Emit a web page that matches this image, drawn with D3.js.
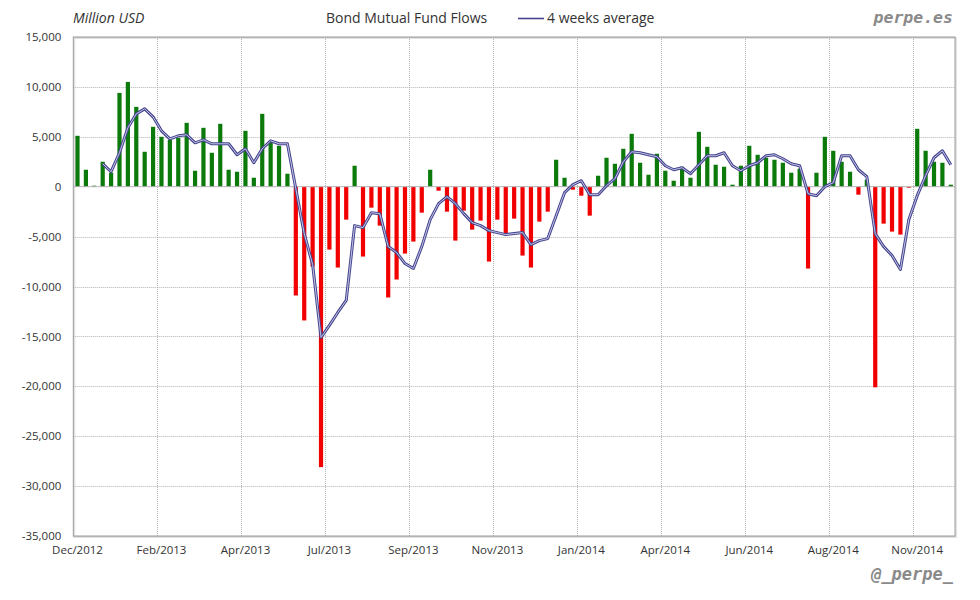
<!DOCTYPE html>
<html>
<head>
<meta charset="utf-8">
<script src="https://cdn.jsdelivr.net/npm/d3@7/dist/d3.min.js"></script>
<style>
  body { margin:0; background:#fff; }
  text { font-family: "Open Sans", "DejaVu Sans", sans-serif; fill:#333; }
  .sign { font-family: "DejaVu Sans Mono", monospace; font-weight:bold; font-style:italic; fill:#8a8a8a; }
</style>
</head>
<body>
<div id="chart"></div>
<script>
//--------------------------------- Data (weekly flows, million USD)
var weekLabels = ["Dec/2012","Feb/2013","Apr/2013","Jul/2013","Sep/2013","Nov/2013",
                  "Jan/2014","Apr/2014","Jun/2014","Aug/2014","Nov/2014"];   // one every 10 weeks

var flows = [
   5100,  1700,   100,  2500,  1400,  9400, 10500,  8000,  3500,  6000,
   5000,  4700,  4900,  6400,  1600,  5900,  3400,  6300,  1700,  1500,
   5600,   900,  7300,  4600,  4100,  1300,-10900,-13400, -8000,-28100,
  -6300, -8100, -3300,  2100, -7000, -2100, -3900,-11100, -9300, -6700,
  -5500, -2600,  1700,  -400, -2500, -5400, -2400, -4300, -3400, -7500,
  -3300, -4800, -3200, -6900, -8100, -3500, -2500,  2700,   900,  -300,
   -900, -2900,  1100,  2900,  2300,  3800,  5300,  2400,  1200,  3300,
   1600,   600,  2000,   900,  5500,  4000,  2200,  2000,   200,  2100,
   4100,  3200,  2900,  2700,  2400,  1400,  1800, -8200,  1400,  5000,
   3600,  2500,  1500,  -800,   700,-20100, -3700, -4500, -4800,  -100,
   5800,  3600,  2500,  2400,   200
];

var avg4w = [
   null,  null,  null,  2300,  1500,  3400,  5900,  7300,  7800,  7000,
   5600,  4800,  5100,  5200,  4400,  4700,  4300,  4300,  4300,  3200,
   3800,  2400,  3800,  4600,  4300,  4300,  -200, -4700, -7800,-15100,
 -13900,-12600,-11400, -3900, -4100, -2600, -2700, -6000, -6600, -7700,
  -8200, -6000, -3300, -1700, -1000, -1700, -2700, -3600, -3900, -4400,
  -4600, -4800, -4700, -4600, -5800, -5400, -5200, -2900,  -600,   200,
    600,  -800,  -800,   100,   800,  2500,  3500,  3400,  3200,  3000,
   2100,  1700,  1900,  1300,  2200,  3100,  3100,  3400,  2100,  1600,
   2100,  2400,  3100,  3200,  2800,  2300,  2100,  -700,  -900,     0,
    400,  3100,  3100,  1700,  1000, -4700, -6000, -6900, -8300, -3300,
   -900,  1100,  2900,  3600,  2200
];

var yTicks = [-35000,-30000,-25000,-20000,-15000,-10000,-5000,0,5000,10000,15000];

//--------------------------------- Dimensoes
var W = 980, H = 600,
    plot = {left:73.3, right:955, top:37, bottom:536},
    labelEvery = 10;

var svg = d3.select("#chart").append("svg")
    .attr("width", W).attr("height", H);

var idx = d3.range(flows.length);

var x = d3.scaleBand()
    .domain(idx)
    .range([plot.left, plot.right])
    .paddingInner(0.5)
    .paddingOuter(0.25);

var y = d3.scaleLinear()
    .domain([-35000, 15000])
    .range([plot.bottom, plot.top]);

var fmt = d3.formatLocale({decimal:".", thousands:",", grouping:[3], currency:["$",""], minus:"-"}).format(",");

// inicio da categoria (onde ficam as linhas verticais)
function catStart(i) { return x(i) - x.step() * x.paddingOuter(); }

//--------------------------------- Sombra da moldura
svg.append("rect")
    .attr("x", plot.left + 1).attr("y", plot.top + 1)
    .attr("width", plot.right - plot.left).attr("height", plot.bottom - plot.top)
    .attr("fill", "none").attr("stroke", "#e2e2e2").attr("stroke-width", 2);

//--------------------------------- Grades
svg.append("g").selectAll("line")
    .data(yTicks.filter(function (d) { return d !== 0; }))
  .enter().append("line")
    .attr("x1", plot.left).attr("x2", plot.right)
    .attr("y1", function (d) { return Math.round(y(d)) + 0.5; })
    .attr("y2", function (d) { return Math.round(y(d)) + 0.5; })
    .attr("stroke", "#b4b4b4").attr("stroke-dasharray", "1,1");

svg.append("g").selectAll("line")
    .data(idx.filter(function (i) { return i % labelEvery === 0 && i > 0; }))
  .enter().append("line")
    .attr("x1", function (i) { return Math.round(catStart(i)) + 0.5; })
    .attr("x2", function (i) { return Math.round(catStart(i)) + 0.5; })
    .attr("y1", plot.top).attr("y2", plot.bottom)
    .attr("stroke", "#b4b4b4").attr("stroke-dasharray", "1,1");

//--------------------------------- Barras
svg.append("g").selectAll("rect")
    .data(flows)
  .enter().append("rect")
    .attr("x", function (d, i) { return x(i); })
    .attr("width", x.bandwidth())
    .attr("y", function (d) { return y(Math.max(0, d)); })
    .attr("height", function (d) { return Math.abs(y(d) - y(0)); })
    .attr("fill", function (d) { return d >= 0 ? "#0b7a0b" : "#f20000"; });

// linha do zero
svg.append("line")
    .attr("x1", plot.left).attr("x2", plot.right)
    .attr("y1", y(0)).attr("y2", y(0))
    .attr("stroke", "#b4b4b4").attr("stroke-width", 1);

//--------------------------------- Media de 4 semanas
var line = d3.line()
    .defined(function (d) { return d !== null; })
    .x(function (d, i) { return x(i) + x.bandwidth() / 2; })
    .y(function (d) { return y(d); });

svg.append("path").datum(avg4w)
    .attr("d", line).attr("fill", "none")
    .attr("stroke", "#45458f").attr("stroke-width", 3).attr("stroke-linejoin", "round");
svg.append("path").datum(avg4w)
    .attr("d", line).attr("fill", "none")
    .attr("stroke", "#c4c4e6").attr("stroke-width", 1).attr("stroke-linejoin", "round");

//--------------------------------- Moldura
svg.append("rect")
    .attr("x", plot.left).attr("y", plot.top)
    .attr("width", plot.right - plot.left).attr("height", plot.bottom - plot.top)
    .attr("fill", "none").attr("stroke", "#9c9c9c").attr("stroke-width", 1);

//--------------------------------- Eixos
var yAxis = svg.append("g")
    .attr("transform", "translate(" + plot.left + ",0)")
    .call(d3.axisLeft(y).tickValues(yTicks).tickFormat(fmt).tickSize(0).tickPadding(12));
yAxis.select(".domain").remove();
yAxis.selectAll("text").style("font-size", "11.5px").attr("fill", "#333")
    .style("font-family", "\"Open Sans\", sans-serif");

var xAxis = svg.append("g")
    .attr("transform", "translate(0," + plot.bottom + ")")
    .call(d3.axisBottom(x)
        .tickValues(idx.filter(function (i) { return i % labelEvery === 0; }))
        .tickFormat(function (i) { return weekLabels[i / labelEvery]; })
        .tickSize(0).tickPadding(10));
xAxis.select(".domain").remove();
xAxis.selectAll("text").style("font-size", "11.5px").attr("fill", "#333")
    .style("font-family", "\"Open Sans\", sans-serif");

//--------------------------------- Titulos e legenda
svg.append("text").text("Million USD")
    .attr("x", 73).attr("y", 23)
    .style("font-size", "14px").style("font-style", "italic");

svg.append("text").text("Bond Mutual Fund Flows")
    .attr("x", 326).attr("y", 23)
    .style("font-size", "14px");

svg.append("line")
    .attr("x1", 518).attr("x2", 544).attr("y1", 18.5).attr("y2", 18.5)
    .attr("stroke", "#45458f").attr("stroke-width", 1.6);

svg.append("text").text("4 weeks average")
    .attr("x", 547).attr("y", 23)
    .style("font-size", "14px");

svg.append("text").attr("class", "sign").text("perpe.es")
    .attr("x", 953).attr("y", 23).attr("text-anchor", "end")
    .style("font-size", "16.5px");

svg.append("text").attr("class", "sign").text("@_perpe_")
    .attr("x", 953).attr("y", 580).attr("text-anchor", "end")
    .style("font-size", "17px");
</script>
</body>
</html>
